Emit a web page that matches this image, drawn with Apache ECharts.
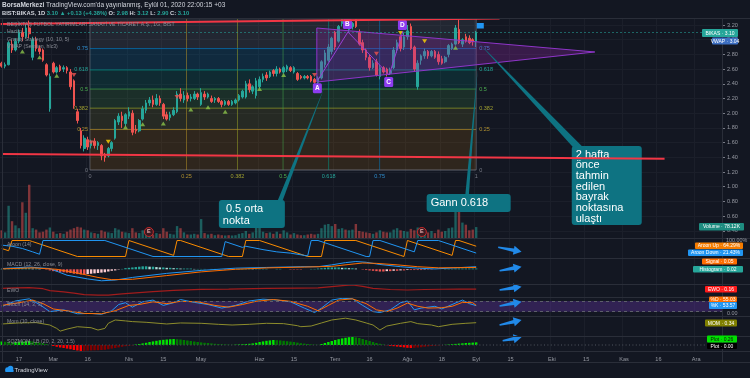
<!DOCTYPE html>
<html><head><meta charset="utf-8">
<script src="https://cdn.jsdelivr.net/npm/echarts@6.0.0/dist/echarts.min.js"></script>
<style>html,body{margin:0;padding:0;background:#131722;overflow:hidden}#c{width:750px;height:378px}</style>
</head><body><div id="c"></div>
<script>
// ---------- categories / tick labels ----------
const firstTradingDay = '2020-02-10';
const barSlots = 210;
const marketHolidays = ['2020-04-23','2020-05-01','2020-05-19','2020-05-25','2020-05-26','2020-07-15','2020-07-31','2020-08-03','2020-10-29'];
const tickLabels = [['2020-02-17','17'],['2020-03-02','Mar'],['2020-03-16','16'],['2020-04-01','Nis'],['2020-04-15','15'],['2020-05-04','May'],['2020-06-01','Haz'],['2020-06-15','15'],['2020-07-01','Tem'],['2020-07-16','16'],['2020-08-04','Ağu'],['2020-08-18','18'],['2020-09-01','Eyl'],['2020-09-15','15'],['2020-10-01','Eki'],['2020-10-15','15'],['2020-11-02','Kas'],['2020-11-16','16'],['2020-12-01','Ara']];

// ---------- candles ----------
const openP = [2.68,2.64,2.66,2.94,2.86,2.98,3.10,3.04,3.16,2.76,
3.00,2.88,2.86,2.66,2.06,2.68,2.56,2.64,2.60,2.62,
2.56,2.44,2.02,1.76,1.52,1.64,1.56,1.62,1.56,1.56,
1.42,1.42,1.52,1.66,1.88,1.96,1.86,1.96,2.00,1.78,
1.76,1.92,2.04,2.14,2.18,2.12,2.20,2.12,1.98,1.94,
1.98,2.02,2.26,2.18,2.24,2.20,2.20,2.26,2.12,2.26,
2.22,2.20,2.18,2.20,2.16,2.12,2.16,2.12,2.14,2.18,
2.22,2.22,2.40,2.30,2.24,2.36,2.46,2.52,2.50,2.58,
2.54,2.60,2.56,2.60,2.62,2.56,2.54,2.50,2.48,2.50,
2.50,2.46,2.42,2.48,2.66,2.72,2.84,3.10,2.98,3.22,
3.28,3.14,3.18,3.30,3.10,2.96,2.86,2.76,2.62,2.70,
2.50,2.62,2.60,2.54,2.62,2.86,3.04,2.90,3.04,3.18,
2.90,2.36,2.72,2.78,2.84,2.78,2.84,2.80,2.74,2.70,
2.80,2.88,2.94,3.14,2.94,3.04,3.02,3.00,2.98];
const closeP = [2.64,2.66,2.96,2.86,2.98,3.10,3.04,3.16,3.08,3.00,
2.88,2.84,2.72,2.52,2.50,2.56,2.62,2.58,2.62,2.58,
2.36,2.10,1.90,1.56,1.66,1.54,1.62,1.56,1.60,1.42,
1.40,1.52,1.60,1.90,1.96,1.90,1.98,2.02,1.74,1.76,
1.90,2.06,2.14,2.18,2.12,2.20,2.14,1.96,1.92,1.98,
2.04,2.26,2.20,2.24,2.20,2.22,2.26,2.22,2.28,2.22,
2.26,2.16,2.20,2.16,2.12,2.16,2.12,2.16,2.18,2.24,
2.30,2.40,2.32,2.36,2.44,2.46,2.50,2.48,2.56,2.54,
2.60,2.56,2.62,2.64,2.58,2.62,2.46,2.48,2.50,2.48,
2.44,2.42,2.48,2.70,2.82,2.90,3.02,2.90,3.18,3.30,
3.22,3.18,3.22,3.18,2.94,2.86,2.76,2.62,2.68,2.52,
2.62,2.56,2.54,2.58,2.86,2.96,2.88,3.04,3.12,2.88,
2.60,2.68,2.78,2.84,2.78,2.84,2.76,2.70,2.68,2.76,
2.92,2.94,3.16,2.96,3.00,2.98,2.96,2.97,3.10];
const lowP = [2.62,2.61,2.65,2.82,2.84,2.95,2.98,3.02,3.02,2.72,
2.84,2.80,2.70,2.50,2.02,2.54,2.54,2.56,2.56,2.54,
2.32,2.06,1.86,1.52,1.48,1.50,1.52,1.52,1.50,1.36,
1.34,1.40,1.48,1.64,1.84,1.80,1.82,1.92,1.70,1.72,
1.74,1.90,2.00,2.10,2.08,2.10,2.10,1.92,1.90,1.90,
1.96,2.00,2.16,2.14,2.16,2.16,2.18,2.18,2.10,2.18,
2.20,2.14,2.14,2.14,2.08,2.10,2.10,2.10,2.12,2.16,
2.20,2.20,2.28,2.26,2.20,2.34,2.42,2.44,2.48,2.50,
2.50,2.54,2.54,2.56,2.56,2.54,2.44,2.46,2.46,2.46,
2.42,2.40,2.38,2.46,2.62,2.70,2.80,2.86,2.96,3.18,
3.18,3.10,3.14,3.16,2.92,2.82,2.72,2.58,2.60,2.50,
2.46,2.54,2.50,2.52,2.60,2.82,2.84,2.86,3.00,2.86,
2.56,2.32,2.66,2.74,2.74,2.76,2.74,2.66,2.66,2.68,
2.76,2.86,2.92,2.94,2.90,2.96,2.94,2.92,2.90];
const highP = [2.70,2.69,2.98,3.00,3.02,3.14,3.16,3.22,3.26,3.04,
3.04,2.92,2.88,2.68,2.54,2.70,2.64,2.66,2.65,2.64,
2.60,2.46,2.06,1.80,1.70,1.68,1.64,1.66,1.62,1.58,
1.46,1.54,1.62,1.92,2.00,2.02,2.00,2.08,2.04,1.84,
1.92,2.10,2.18,2.22,2.24,2.26,2.24,2.14,2.02,2.02,
2.08,2.30,2.34,2.30,2.28,2.26,2.30,2.28,2.34,2.30,
2.28,2.24,2.22,2.22,2.18,2.18,2.18,2.18,2.20,2.26,
2.32,2.44,2.46,2.38,2.48,2.50,2.54,2.56,2.58,2.60,
2.64,2.62,2.64,2.66,2.64,2.64,2.56,2.52,2.52,2.52,
2.52,2.48,2.50,2.72,2.86,2.94,3.04,3.12,3.20,3.32,
3.34,3.22,3.24,3.32,3.14,3.00,2.88,2.80,2.72,2.74,
2.66,2.64,2.62,2.62,2.90,3.00,3.06,3.10,3.20,3.22,
2.92,2.72,2.80,2.88,2.86,2.86,2.86,2.84,2.78,2.78,
2.94,2.96,3.20,3.30,3.02,3.08,3.06,3.02,3.12];
const volumeK = [55,40,230,120,90,70,255,180,380,70,
60,40,45,60,75,45,30,35,30,45,
60,70,80,75,60,55,40,35,30,55,
45,40,35,70,60,45,40,35,70,40,
35,55,40,30,25,35,30,70,45,30,
25,85,70,40,25,25,30,25,135,35,
25,30,20,25,20,18,20,18,20,30,
35,50,30,40,100,105,45,35,40,30,
45,30,55,40,25,35,25,20,20,25,
30,25,30,70,95,100,85,100,65,70,
60,55,60,100,50,45,40,35,30,40,
55,45,40,40,60,70,55,50,45,65,
55,75,40,55,40,50,35,60,45,50,
70,75,240,260,110,95,55,60,78.12];

// ---------- indicators ----------
const aroonUp = [[0,50],[2,36],[3,100],[8,100],[9,93],[22,0],[36,0],[37,100],[50,7],[51,100],[52,100],[65,7],[66,0],[70,0],[71,100],[75,100],[88,7],[89,0],[93,0],[94,100],[103,100],[116,7],[117,0],[118,100],[131,7],[132,100],[133,100],[138,64.29]];
const aroonDown = [[0,71],[3,64],[6,50],[9,29],[11,14],[12,100],[30,100],[44,0],[64,0],[65,93],[70,57],[71,64],[76,43],[80,29],[84,21],[88,7],[89,4],[90,100],[92,100],[106,0],[107,0],[108,100],[110,100],[120,29],[121,100],[127,100],[138,21.43]];
const macdLine = [[0,0.02],[8,0.06],[14,0.02],[19,-0.16],[25,-0.26],[29,-0.31],[33,-0.29],[38,-0.22],[48,-0.11],[58,-0.03],[68,0.03],[77,0.05],[87,0.07],[92,0.07],[96,0.12],[100,0.18],[103,0.21],[106,0.19],[110,0.13],[116,0.07],[121,0.03],[126,0.01],[132,0.04],[138,0.07]];
const signalLine = [[0,0.01],[9,0.04],[16,0.0],[22,-0.1],[28,-0.22],[32,-0.28],[38,-0.27],[48,-0.17],[58,-0.07],[68,0.0],[78,0.04],[88,0.06],[96,0.08],[101,0.13],[105,0.17],[109,0.16],[115,0.12],[121,0.07],[127,0.04],[138,0.05]];
const macdHist = [0.01,0.01,0.02,0.02,0.02,0.03,0.03,0.03,0.03,0.02,0.02,
0.01,0.0,-0.01,-0.03,-0.05,-0.06,-0.07,
-0.08,-0.09,-0.10,-0.12,-0.13,-0.14,-0.14,-0.13,-0.12,-0.11,-0.10,-0.09,-0.08,
-0.06,-0.04,-0.03,-0.01,
0.01,0.03,0.04,0.05,0.06,0.07,0.08,0.08,0.07,0.07,0.06,0.05,0.05,0.04,0.04,0.03,0.03,0.02,0.02,0.02,0.02,
0.01,0.01,0.01,0.01,0.0,0.01,0.01,0.0,0.0,-0.01,-0.01,0.0,0.0,0.01,0.01,0.01,0.02,0.01,0.01,0.01,0.01,0.01,0.0,0.0,0.01,0.01,0.0,0.0,-0.01,-0.01,-0.01,-0.01,0.0,0.0,0.01,
0.01,0.02,0.03,0.04,0.05,0.05,0.05,0.05,0.04,0.04,0.03,0.03,0.02,
0.0,-0.01,-0.02,-0.03,-0.04,-0.05,-0.06,-0.06,-0.05,-0.05,-0.04,-0.04,-0.03,-0.03,-0.02,-0.02,-0.02,
-0.02,-0.02,-0.01,-0.01,-0.01,0.0,0.0,
0.0,0.01,0.01,0.01,0.02,0.02,0.02,0.02,0.02,0.02,0.02];
const ewo = [[0,0.25],[4,0.3],[8,0.35],[12,0.2],[14,-0.05],[18,-0.2],[21,-0.35],[24,-0.55],[28,-0.62],[31,-0.6],[35,-0.45],[40,-0.3],[44,-0.18],[50,-0.02],[58,0.12],[66,0.15],[77,0.25],[86,0.28],[92,0.3],[96,0.46],[100,0.62],[102,0.67],[105,0.5],[108,0.25],[113,0.1],[118,0.04],[123,0.1],[128,0.13],[133,0.15],[138,0.16]];
const stochK = [[0,48],[4,80],[8,92],[11,60],[14,20],[18,30],[22,8],[26,10],[29,5],[32,25],[34,60],[36,70],[38,45],[41,75],[44,85],[47,55],[50,70],[52,88],[56,72],[60,60],[64,40],[68,55],[72,80],[76,90],[80,85],[84,75],[88,40],[91,15],[93,40],[96,85],[99,95],[102,92],[105,55],[108,20],[110,15],[113,30],[116,70],[118,80],[120,30],[122,40],[126,50],[128,35],[131,60],[134,85],[136,65],[138,53.57]];
const stochD = [[0,55],[5,70],[9,85],[12,65],[15,35],[20,22],[24,10],[29,8],[33,25],[37,55],[40,60],[44,75],[48,65],[52,78],[57,75],[62,55],[66,45],[70,60],[74,78],[79,88],[84,78],[89,50],[92,25],[95,55],[98,85],[102,92],[106,65],[109,30],[112,20],[115,40],[118,68],[121,50],[124,40],[128,42],[131,50],[134,72],[137,70],[138,55.03]];
const momentum = [[0,0.15],[5,0.3],[10,0.35],[14,0.0],[16,-0.5],[17,-0.9],[19,-0.6],[22,-0.25],[26,-0.4],[28,-0.74],[30,-0.5],[31,0.25],[33,0.74],[36,0.6],[38,0.5],[42,0.4],[48,0.15],[52,0.3],[58,0.25],[63,0.1],[67,0.0],[72,0.1],[77,0.25],[82,0.2],[86,-0.1],[87,-0.25],[90,-0.15],[93,0.3],[96,0.74],[100,1.0],[103,0.74],[106,0.3],[108,0.0],[110,-0.74],[112,-0.15],[116,0.25],[119,0.5],[121,0.2],[125,0.0],[127,-0.25],[131,0.1],[135,0.25],[138,0.34]];
const squeezeMom = [0.35,0.32,0.3,0.28,0.3,0.33,0.35,0.38,0.4,0.35,0.3,0.25,0.18,
0.1,0.02,-0.1,-0.18,-0.25,-0.3,-0.36,-0.42,
-0.5,-0.55,-0.6,-0.58,-0.56,-0.55,-0.53,-0.52,-0.5,-0.48,
-0.42,-0.36,-0.3,-0.24,-0.18,-0.12,-0.08,-0.04,
0.05,0.1,0.16,0.22,0.3,0.36,0.42,0.48,0.52,0.55,0.58,0.6,
0.58,0.55,0.5,0.45,0.4,0.35,0.3,0.26,0.22,0.2,
0.16,0.12,0.1,0.08,0.06,0.04,0.03,0.04,0.06,0.08,0.1,0.12,
0.16,0.22,0.3,0.36,0.42,0.46,0.5,0.48,0.46,0.42,0.38,0.34,0.3,
0.24,0.18,0.14,0.1,0.06,0.03,0.02,
0.1,0.2,0.3,0.4,0.5,0.58,0.66,0.72,0.78,0.8,0.76,0.7,
0.6,0.5,0.4,0.3,0.2,0.12,0.05,-0.02,
-0.08,-0.12,-0.16,-0.2,-0.24,-0.28,-0.3,-0.28,
-0.25,-0.22,-0.18,-0.14,-0.1,-0.07,-0.04,-0.02,
0.02,0.05,0.08,0.11,0.14,0.17,0.2,0.22,0.24,0.26];

// ---------- signals & drawings (bar index, value) ----------
const buySignals = [[6,2.84],[11,2.76],[16,2.51],[36,1.81],[41,1.85],[47,1.86],[55,2.05],[60,2.08],[65,2.02],[75,2.33],[82,2.52],[132,2.89]];
const sellSignals = [[21,2.52],[26,1.60],[51,2.22],[72,2.36],[91,2.52],[109,2.81]];
const alertSignals = [[31,1.61],[116,3.09],[123,2.98]];
const gannBox = [25.66, 138, 1.227, 3.43];
const gannLevels = [0, 0.25, 0.382, 0.5, 0.618, 0.75, 1];
const flagTriangle = [[91.65,3.159],[91.65,2.424],[172.5,2.833]];
const abcdPoints = [[91.95,2.45],[100.7,3.105],[112.7,2.52],[116.7,3.118]];
const abcdNames = ['A','B','C','D'];
const trendLines = [[[-0.3,3.213],[144.8,3.288]],[[0.37,1.445],[192.8,1.381]]];
const calloutTips = [[94.0,2.37],[138.45,2.615],[138.5,2.969]];
const calloutBoxes = [[63.16,0.819],[123.6,0.901],[165.8,1.554]];
const calloutText = [[' 0.5 orta','nokta'],['Gann 0.618'],['2 hafta','önce','tahmin','edilen','bayrak','noktasına','ulaştı']];
const flagMarks = [[139.2,3.193]];
const earningsMarks = [[42.8,43],[122.2,43]];
const arrowsAroon = [[144.4,57.5],[151.2,30]];
const arrowsMacd = [[144.8,-0.038],[151.2,0.07]];
const arrowsEwo = [[144.8,0.04],[151.2,0.46]];
const arrowsStoch = [[144.8,51.7],[151.2,75.8]];
const arrowsMom = [[144.8,0],[151.2,0.74]];
const arrowsSqz = [[145.7,0.43],[151.2,0.77]];

// ---------- build ----------
const dates = [];
(function(){ let d = new Date(firstTradingDay+'T00:00:00Z');
  while(dates.length < barSlots){ const s=d.toISOString().slice(0,10), w=d.getUTCDay();
    if(w!==0 && w!==6 && marketHolidays.indexOf(s)<0) dates.push(s);
    d.setUTCDate(d.getUTCDate()+1); } })();
const tickMap = {}; tickLabels.forEach(function(t){ tickMap[t[0]] = t[1]; });
const isTick = function(i){ return !!tickMap[dates[i]]; };

const FONT = '"Liberation Sans", Arial, sans-serif';
const UP = '#26a69a', DN = '#ef5350', BG = '#131722';
const paneTop = [10.3, 18, 238, 258, 284, 297, 316, 336];
const paneH = [235.2, 220, 20, 26, 13, 19, 20, 15];
const yRange = [[0.2,3.4],[0,1570],[-9.4,115.6],[-0.397,0.305],[-0.848,0.797],[-4.5,102.2],[-1.618,1.324],[-0.6,0.9]];

const grid = paneTop.map(function(t,k){ return {left:0, width:722, top:t, height:paneH[k]}; });
const xAxis = paneTop.map(function(t,k){ return {
  type:'category', gridIndex:k, data:dates, boundaryGap:true,
  axisLine:{show:false}, axisTick:{show:false},
  axisLabel: k===7 ? {show:true, interval:isTick, formatter:function(v){return tickMap[v]||'';}, color:'#9598a1', fontSize:5.6, margin:5, fontFamily:FONT} : {show:false},
  splitLine:{show:k>=1, interval:isTick, lineStyle:{color:'#1b1f2a', width:1}}
};});
const yAxis = paneTop.map(function(t,k){
  if(k===0) return {type:'value', gridIndex:0, position:'right', min:0.2, max:3.4, interval:0.2,
    axisLine:{show:false}, axisTick:{show:true, length:3, lineStyle:{color:'#787b86'}},
    axisLabel:{show:true, color:'#9598a1', fontSize:5.6, margin:5, fontFamily:FONT, showMinLabel:false, showMaxLabel:false, formatter:function(v){return v.toFixed(2);}},
    splitLine:{show:true, showMinLine:false, showMaxLine:false, lineStyle:{color:'#1b1f2a'}}};
  return {type:'value', gridIndex:k, min:yRange[k][0], max:yRange[k][1], show:false, splitLine:{show:false}};
});

function overlay(k, build, z){
  return {type:'custom', xAxisIndex:k, yAxisIndex:k, z:z, silent:true, data:[[0,0]],
    renderItem:function(params, api){
      const bw = api.size([1,0])[0];
      const x0 = api.coord([0,0])[0];
      const P = function(i,v){ return [x0 + i*bw, api.coord([0,v])[1]]; };
      return {type:'group', children: build(P, bw)};
    }};
}

const gannFill = ['rgba(255,152,0,0.12)','rgba(205,220,57,0.10)','rgba(76,175,80,0.16)','rgba(0,150,136,0.16)','rgba(3,155,229,0.15)','rgba(120,123,134,0.16)'];
const gannStroke = ['rgba(120,123,134,0.75)','rgba(176,140,40,0.7)','rgba(150,160,40,0.7)','rgba(67,160,71,0.7)','rgba(0,150,136,0.7)','rgba(3,120,190,0.7)','rgba(120,123,134,0.75)'];
const gannTextC = ['#787b86','#b09030','#a0a030','#4caf50','#26a69a','#2f8fd0','#787b86'];
function drawGann(P){
  const i0=gannBox[0], i1=gannBox[1], p0=gannBox[2], p1=gannBox[3];
  const pr = function(L){ return p0 + L*(p1-p0); };
  const xi = function(L){ return i0 + L*(i1-i0); };
  const out = [];
  const xl = P(i0,0)[0], xr = P(i1,0)[0];
  for(let j=0;j<gannLevels.length-1;j++){
    const yT = P(0,pr(gannLevels[j+1]))[1], yB = P(0,pr(gannLevels[j]))[1];
    out.push({type:'rect', shape:{x:xl,y:yT,width:xr-xl,height:yB-yT}, style:{fill:gannFill[j]}});
  }
  const yBot = P(0,p0)[1], yTop = P(0,p1)[1];
  gannLevels.forEach(function(L,j){
    const y = P(0,pr(L))[1];
    out.push({type:'line', shape:{x1:xl,y1:y,x2:xr,y2:y}, style:{stroke:gannStroke[j], lineWidth:1}});
    const x = P(xi(L),0)[0];
    out.push({type:'line', shape:{x1:x,y1:yBot,x2:x,y2:yTop}, style:{stroke:gannStroke[j], lineWidth:0.8}});
    if(L<1){
      out.push({type:'text', style:{text:String(L), x:xl-2, y:y, fill:gannTextC[j], font:'5.5px '+FONT, align:'right', verticalAlign:'middle'}});
      out.push({type:'text', style:{text:String(L), x:xr+3, y:y, fill:gannTextC[j], font:'5.5px '+FONT, align:'left', verticalAlign:'middle'}});
    }
    out.push({type:'text', style:{text:String(L), x:x, y:yBot+6, fill:gannTextC[j], font:'5.5px '+FONT, align:'center', verticalAlign:'middle'}});
  });
  return out;
}
function drawTriangle(P){
  return [{type:'polygon', shape:{points:flagTriangle.map(function(p){return P(p[0],p[1]);})}, style:{fill:'rgba(156,39,176,0.28)', stroke:'#8e35c9', lineWidth:1}}];
}
function drawABCD(P){
  const pts = abcdPoints.map(function(p){return P(p[0],p[1]);});
  const out = [{type:'polyline', shape:{points:pts}, style:{stroke:'#9a3fd6', lineWidth:1, fill:'none'}}];
  const off = [8,-8,7,-6];
  pts.forEach(function(p,j){
    out.push({type:'rect', shape:{x:p[0]-5,y:p[1]+off[j]-5,width:9,height:10,r:1.5}, style:{fill:'#8d3cf0'}});
    out.push({type:'text', style:{text:abcdNames[j], x:p[0]-0.5, y:p[1]+off[j], fill:'#ffffff', font:'bold 6.5px '+FONT, align:'center', verticalAlign:'middle'}});
  });
  return out;
}
function drawFlags(P){
  return flagMarks.map(function(f){ const p=P(f[0],f[1]); return {type:'rect', shape:{x:p[0]-3.5,y:p[1]-2.5,width:7,height:5.5}, style:{fill:'#2196f3'}}; });
}
const CALLOUT = '#0e7382';
const calloutSize = [[66,28],[84,18],[70,79]];
const calloutBaseAt = [0.92,0.48,0.1];
const calloutBaseHalf = [2.5,1.8,5];
const calloutFirst = [9,9,8.5];
const calloutLH = [12,12,10.7];
function drawCallouts(P){
  const out = [];
  calloutTips.forEach(function(tip,j){
    const t = P(tip[0],tip[1]), b = P(calloutBoxes[j][0],calloutBoxes[j][1]);
    const w = calloutSize[j][0], h = calloutSize[j][1], bx=b[0], by=b[1];
    const cx = bx + w*calloutBaseAt[j], hw = calloutBaseHalf[j];
    out.push({type:'polygon', shape:{points:[t,[cx-hw,by+2],[cx+hw,by+2]]}, style:{fill:CALLOUT}});
    out.push({type:'rect', shape:{x:bx,y:by,width:w,height:h,r:3}, style:{fill:CALLOUT}});
    calloutText[j].forEach(function(s,k){
      out.push({type:'text', style:{text:s, x:bx+4, y:by+calloutFirst[j]+k*calloutLH[j], fill:'#ffffff', font:'11px '+FONT, verticalAlign:'middle'}});
    });
  });
  return out;
}
function drawTrend(P){
  return trendLines.map(function(l){ const a=P(l[0][0],l[0][1]), b=P(l[1][0],l[1][1]);
    return {type:'line', shape:{x1:a[0],y1:a[1],x2:b[0],y2:b[1]}, style:{stroke:'#f23645', lineWidth:2}}; });
}
function drawEarnings(P){
  const out=[];
  earningsMarks.forEach(function(e){ const p=P(e[0],e[1]);
    out.push({type:'circle', shape:{cx:p[0],cy:p[1],r:4.5}, style:{fill:'#3a1a22', stroke:'#c62828', lineWidth:1}});
    out.push({type:'text', style:{text:'E', x:p[0], y:p[1], fill:'#f0b0b0', font:'bold 5.5px '+FONT, align:'center', verticalAlign:'middle'}});
  });
  return out;
}
function arrowBuilder(arr){
  return function(P){
    const T = P(arr[0][0],arr[0][1]), H = P(arr[1][0],arr[1][1]);
    const dx=H[0]-T[0], dy=H[1]-T[1], L=Math.sqrt(dx*dx+dy*dy), ux=dx/L, uy=dy/L, nx=-uy, ny=ux;
    const B=[H[0]-ux*8, H[1]-uy*8];
    const pt=function(p,s){ return [p[0]+nx*s, p[1]+ny*s]; };
    return [{type:'polygon', shape:{points:[pt(T,0.8),pt(B,1.8),pt(B,4.5),H,pt(B,-4.5),pt(B,-1.8),pt(T,-0.8)]}, style:{fill:'#2189e8'}}];
  };
}

function lineS(k, data, color, w){
  return {type:'line', xAxisIndex:k, yAxisIndex:k, data:data, symbol:'none', silent:true, z:3, lineStyle:{color:color, width:w||1}};
}

const series = [];
series.push(overlay(0, drawGann, 1));
series.push({type:'bar', xAxisIndex:1, yAxisIndex:1, barWidth:'70%', z:2, silent:true,
  data: volumeK.map(function(v,i){ return {value:v, itemStyle:{color: closeP[i]>=openP[i] ? 'rgba(38,166,154,0.5)' : 'rgba(239,83,80,0.5)'}}; })});
series.push(overlay(1, drawEarnings, 3));
series.push({type:'candlestick', xAxisIndex:0, yAxisIndex:0, z:3, barWidth:'60%', silent:true,
  data: openP.map(function(o,i){ return [o, closeP[i], lowP[i], highP[i]]; }),
  itemStyle:{color:UP, color0:DN, borderColor:UP, borderColor0:DN, borderWidth:1},
  markLine:{silent:true, symbol:'none', label:{show:false}, lineStyle:{color:'rgba(38,166,154,0.55)', type:[2,2], width:1},
    data:[{yAxis: closeP[closeP.length-1]}]}});
series.push(overlay(0, drawTriangle, 4));
series.push({type:'scatter', xAxisIndex:0, yAxisIndex:0, z:5, silent:true, symbol:'triangle', symbolSize:[5,4], itemStyle:{color:'#8bc34a'}, data:buySignals});
series.push({type:'scatter', xAxisIndex:0, yAxisIndex:0, z:5, silent:true, symbol:'triangle', symbolRotate:180, symbolSize:[5,4], itemStyle:{color:'#ef5350'}, data:sellSignals});
series.push({type:'scatter', xAxisIndex:0, yAxisIndex:0, z:5, silent:true, symbol:'triangle', symbolRotate:180, symbolSize:[5,4], itemStyle:{color:'#ffd600'}, data:alertSignals});
series.push(overlay(0, drawABCD, 6));
series.push(overlay(0, drawFlags, 6));
series.push(overlay(0, drawCallouts, 7));
series.push(overlay(0, drawTrend, 8));
series.push(lineS(2, aroonUp, '#fb8c00'));
series.push(lineS(2, aroonDown, '#2196f3'));
series.push({type:'bar', xAxisIndex:3, yAxisIndex:3, barWidth:'70%', silent:true, z:2,
  data: macdHist.map(function(v,i){ const p = i>0 ? macdHist[i-1] : v;
    const c = v>=0 ? (v>=p ? '#26a69a' : '#b2dfdb') : (v>p ? '#ffcdd2' : '#ef5350');
    return {value:v, itemStyle:{color:c}}; })});
series.push(lineS(3, macdLine, '#2196f3'));
series.push(lineS(3, signalLine, '#ff6d00'));
series.push(lineS(4, ewo, '#a11c1c', 1.2));
const stK = lineS(5, stochK, '#2196f3');
stK.markArea = {silent:true, itemStyle:{color:'rgba(120,60,200,0.3)'}, data:[[{yAxis:20},{yAxis:80}]]};
stK.markLine = {silent:true, symbol:'none', label:{show:false}, lineStyle:{color:'#5d5f6b', type:[3,3], width:1}, data:[{yAxis:20},{yAxis:80}]};
series.push(stK);
series.push(lineS(5, stochD, '#ff6d00'));
series.push(lineS(6, momentum, '#8d8d2c'));
series.push({type:'bar', xAxisIndex:7, yAxisIndex:7, barWidth:'70%', silent:true, z:2,
  data: squeezeMom.map(function(v,i){ const p = i>0 ? squeezeMom[i-1] : v;
    const c = v>0 ? (v>=p ? '#00e600' : '#007a00') : (v<p ? '#ff0000' : '#800000');
    return {value:v, itemStyle:{color:c}}; }),
  markLine:{silent:true, symbol:'none', label:{show:false}, lineStyle:{color:'#3d414c', type:[1,2.4], width:1.5}, data:[{yAxis:0}]}});
[[2,arrowsAroon],[3,arrowsMacd],[4,arrowsEwo],[5,arrowsStoch],[6,arrowsMom],[7,arrowsSqz]].forEach(function(a){ series.push(overlay(a[0], arrowBuilder(a[1]), 9)); });

// ---------- labels / chrome ----------
const g = [];
g.push({type:'rect', z:100, shape:{x:0,y:0,width:750,height:18}, style:{fill:BG}});
[18,238,258,284,297,316,336,351,362].forEach(function(y){ g.push({type:'line', z:101, shape:{x1:0,y1:y+0.5,x2:750,y2:y+0.5}, style:{stroke:'#2a2e39', lineWidth:1}}); });
g.push({type:'line', z:101, shape:{x1:722.5,y1:18,x2:722.5,y2:362}, style:{stroke:'#2a2e39', lineWidth:1}});
g.push({type:'line', z:101, shape:{x1:2.5,y1:18,x2:2.5,y2:362}, style:{stroke:'#2a2e39', lineWidth:1}});
g.push({type:'text', z:102, x:2, y:5, style:{text:'{b|BorsaMerkezi} TradingView.com\'da yayınlanmış, Eylül 01, 2020 22:00:15 +03', fill:'#d1d4dc', font:'6.5px '+FONT, verticalAlign:'middle', rich:{b:{fontWeight:'bold', fontSize:6.5, fill:'#d1d4dc', fontFamily:'Liberation Sans'}}}});
g.push({type:'text', z:102, x:2, y:13, style:{text:'BIST:BIKAS, 1D {g|3.10 ▲ +0.13 (+4.38%)} O: {g|2.98} H: {g|3.12} L: {g|2.90} C: {g|3.10}', fill:'#d1d4dc', font:'bold 5.8px '+FONT, verticalAlign:'middle', rich:{g:{fill:'#26a69a', fontSize:5.8, fontWeight:'bold', fontFamily:'Liberation Sans'}}}});
[['BEŞİKTAŞ FUTBOL YATIRIMLARI SANAYİ VE TİCARET A.Ş., 1G, BIST',24.5],['Hacim',32],['Gravity Strategy (10, 10, 5)',39.5],['VWAP (Session, hlc3)',47]].forEach(function(t){
  g.push({type:'text', z:102, x:7, y:t[1], style:{text:t[0], fill:'#8a8d96', font:'5.2px '+FONT, verticalAlign:'middle'}}); });
[['Aroon (14)',245],['MACD (12, 26, close, 9)',264.5],['EWO',291],['Stoch (14, 3, 3)',305],['Mom (10, close)',321.7],['SQZMOM_LB (20, 2, 20, 1.5)',341.7]].forEach(function(t){
  g.push({type:'text', z:102, x:7, y:t[1], style:{text:t[0], fill:'#8a8d96', font:'5.2px '+FONT, verticalAlign:'middle'}}); });
g.push({type:'text', z:102, x:726, y:240.5, style:{text:'100.00%', fill:'#9598a1', font:'5.4px '+FONT, verticalAlign:'middle'}});
g.push({type:'text', z:102, x:727, y:313.5, style:{text:'0.00', fill:'#9598a1', font:'5.4px '+FONT, verticalAlign:'middle'}});
const tags = [
 ['BIKAS · 3.10',702,29,36,8,'#26a69a','#ffffff'],
 ['VWAP · 3.04',712,37.5,26,7,'#3d6fc2','#ffffff'],
 ['Volume · 78.12K',699,223,45,7.5,'#1e8c80','#ffffff'],
 ['Aroon Up · 64.29%',695,242.5,48,6.5,'#f57c00','#ffffff'],
 ['Aroon Down · 21.43%',688,249.5,55,6.5,'#2196f3','#ffffff'],
 ['Signal · 0.05',702,258.5,35,6,'#ff6d00','#ffffff'],
 ['Histogram · 0.02',693,266,50,6.5,'#26a69a','#ffffff'],
 ['EWO · 0.16',705,286,32,6.5,'#ff1a1a','#ffffff'],
 ['%D · 55.03',709,296.5,28,5.5,'#ff6d00','#ffffff'],
 ['%K · 53.57',709,302,28,7,'#2196f3','#ffffff'],
 ['MOM · 0.34',705,319.5,32,7,'#808000','#ffffff'],
 ['Plot · 0.26',707,335.5,30,7,'#00e000','#111111'],
 ['Plot · 0.00',707,343,30,6,'#000000','#ffffff']
];
tags.forEach(function(t){
  g.push({type:'rect', z:103, shape:{x:t[1],y:t[2],width:t[3],height:t[4],r:1}, style:{fill:t[5]}});
  g.push({type:'text', z:104, x:t[1]+t[3]/2, y:t[2]+t[4]/2+0.3, style:{text:t[0], fill:t[6], font:'5px '+FONT, align:'center', verticalAlign:'middle'}});
});
g.push({type:'circle', z:102, shape:{cx:7.5,cy:369.5,r:2.3}, style:{fill:'#2196f3'}});
g.push({type:'circle', z:102, shape:{cx:10.5,cy:368.5,r:2.8}, style:{fill:'#2196f3'}});
g.push({type:'rect', z:102, shape:{x:5.2,y:369.5,width:8.5,height:2.6,r:1.2}, style:{fill:'#2196f3'}});
g.push({type:'text', z:102, x:14.5, y:370, style:{text:'TradingView', fill:'#d1d4dc', font:'6px '+FONT, verticalAlign:'middle'}});

const chart = echarts.init(document.getElementById('c'), null, {renderer:'canvas', width:750, height:378});
chart.setOption({
  animation:false, backgroundColor:BG,
  textStyle:{fontFamily:'Liberation Sans'},
  grid:grid, xAxis:xAxis, yAxis:yAxis, series:series, graphic:{elements:g}
});
</script></body></html>
